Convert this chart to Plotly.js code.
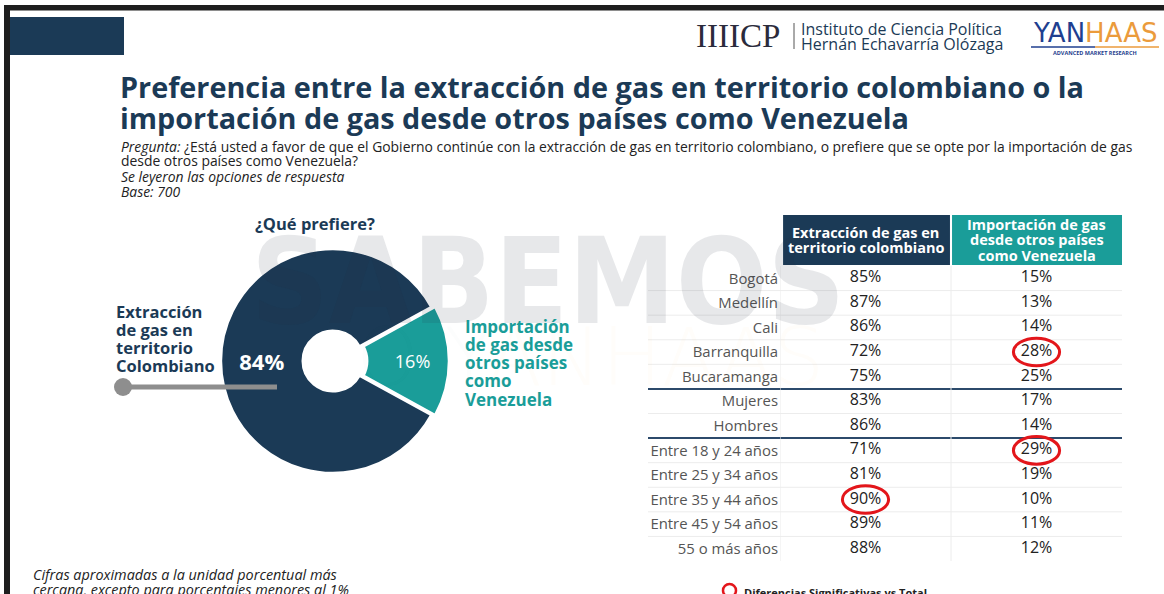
<!DOCTYPE html>
<html>
<head>
<meta charset="utf-8">
<script src="https://cdn.plot.ly/plotly-3.0.1.min.js"></script>
<style>
  html, body { margin: 0; padding: 0; background: #ffffff; }
  #chart { width: 1164px; height: 594px; }
</style>
</head>
<body>
<div id="chart"></div>
<script>
// ---------------- DATA ----------------
const pieLabels = ["Importación de gas desde otros países como Venezuela", "Extracción de gas en territorio Colombiano"];
const pieValues = [16, 84];

const rowLabels = ["Bogotá", "Medellín", "Cali", "Barranquilla", "Bucaramanga",
                   "Mujeres", "Hombres",
                   "Entre 18 y 24 años", "Entre 25 y 34 años", "Entre 35 y 44 años", "Entre 45 y 54 años", "55 o más años"];
const extraccion  = [85, 87, 86, 72, 75, 83, 86, 71, 81, 90, 89, 88];
const importacion = [15, 13, 14, 28, 25, 17, 14, 29, 19, 10, 11, 12];
// significant differences vs total (circled cells)
const sigExtraccion  = [false, false, false, false, false, false, false, false, false, true, false, false];
const sigImportacion = [false, false, false, true, false, false, false, true, false, false, false, false];
// group boundaries (after these row indices a thick line is drawn)
const groupEnds = [4, 6];

const colHeaders = ["Extracción de gas en<br>territorio colombiano", "Importación de gas<br>desde otros países<br>como Venezuela"];

// ---------------- STYLE ----------------
const W = 1164, H = 594;
const NAVY = "#1b3a56", TEAL = "#1a9d99", RED = "#e3161b";
const FONT = "'Open Sans', Lato, sans-serif";
const px = x => x / W;
const py = y => 1 - y / H;

const annotations = [];
function T(text, x, y, o) {
  o = o || {};
  annotations.push({
    text: text, x: px(x), y: py(y), xref: "paper", yref: "paper",
    xanchor: o.xa || "left", yanchor: o.ya || "middle", showarrow: false,
    align: o.align || "left",
    font: { family: o.family || FONT, size: o.size || 14, color: o.color || "#333",
            weight: o.weight || "normal", style: o.style || "normal" }
  });
}
function lines(arr, x, y0, dy, o) { arr.forEach((t, i) => T(t, x, y0 + i * dy, o)); }

const shapes = [];
function rectPx(x0, y0, x1, y1, color, layer) {
  shapes.push({ type: "rect", xref: "paper", yref: "paper", x0: px(x0), x1: px(x1), y0: py(y1), y1: py(y0),
                fillcolor: color, line: { width: 0 }, layer: layer || "below" });
}
function linePx(x0, y0, x1, y1, color, w, layer) {
  shapes.push({ type: "line", xref: "paper", yref: "paper", x0: px(x0), x1: px(x1), y0: py(y0), y1: py(y1),
                line: { color: color, width: w }, layer: layer || "below" });
}

// frame & header block
rectPx(4, 5, 1164, 10.5, "#1e1e1e");
rectPx(4, 5, 10, 594, "#1e1e1e");
rectPx(10, 17, 124, 55, NAVY);

// watermark (drawn first so other texts sit on top of it)
T("SABEMOS", 548, 282, { xa: "center", size: 120, weight: "bold", color: "rgba(40,50,62,0.11)", family: "'DejaVu Sans Condensed', 'Liberation Sans Narrow', 'Liberation Sans', sans-serif" });
T("<span style='color:rgba(40,50,62,0.1)'>O Y</span><span style='color:rgba(235,150,60,0.22)'>ANHAAS</span>", 590, 357, { xa: "center", size: 80, color: "rgba(40,50,62,0.1)", family: "'DejaVu Sans ExtraLight', 'DejaVu Sans', sans-serif", weight: 200 });

// title & question
T("Preferencia entre la extracción de gas en territorio colombiano o la", 118, 87, { size: 28.8, weight: "bold", color: NAVY });
T("importación de gas desde otros países como Venezuela", 118, 118, { size: 28.8, weight: "bold", color: NAVY });
T("<i>Pregunta:</i> ¿Está usted a favor de que el Gobierno continúe con la extracción de gas en territorio colombiano, o prefiere que se opte por la importación de gas", 119, 146, { size: 13.9, color: "#222" });
T("desde otros países como Venezuela?", 119, 161, { size: 13.9, color: "#222" });
T("Se leyeron las opciones de respuesta", 119, 176, { size: 13.9, color: "#222", style: "italic" });
T("Base: 700", 119, 191, { size: 13.9, color: "#222", style: "italic" });

// logos (text)
T("IIIICP", 694, 36, { size: 33, color: "#2b2b3b", family: "'Liberation Serif', serif" });
linePx(794, 23, 794, 49, "#555", 1);
T("Instituto de Ciencia Política", 799, 29, { size: 16, color: NAVY });
T("Hernán Echavarría Olózaga", 799, 44, { size: 16, color: NAVY });
T("<span style='color:#1f3f8f'>YAN</span><span style='color:#eb9b3c'>HAAS</span>", 1095, 33, { xa: "center", size: 26, color: "#1f3f8f", family: "'DejaVu Sans', sans-serif" });
linePx(1031, 47, 1095, 47, "#1f3f8f", 1.5);
linePx(1095, 47, 1159, 47, "#eb9b3c", 1.5);
T("ADVANCED MARKET RESEARCH", 1095, 53, { xa: "center", size: 5.5, color: "#1f3f8f", weight: "bold" });

// donut labels
T("¿Qué prefiere?", 315, 223, { xa: "center", size: 16.5, weight: "bold", color: NAVY });
lines(["Extracción", "de gas en", "territorio", "Colombiano"], 114, 311, 18.2, { size: 16.5, weight: "bold", color: NAVY });
lines(["Importación", "de gas desde", "otros países", "como", "Venezuela"], 463, 326, 18.3, { size: 17, weight: "bold", color: TEAL });
// connector
linePx(123, 387, 277, 387, "#8e8e8e", 5, "above");
shapes.push({ type: "circle", xref: "paper", yref: "paper", x0: px(114), x1: px(132), y0: py(396), y1: py(378),
              fillcolor: "#8e8e8e", line: { width: 0 }, layer: "above" });

// table header
const X2L = 780, X2R = 1122;
function xc(v) { return X2L + (v / 2) * (X2R - X2L); }
shapes.push({ type: "rect", xref: "x", yref: "paper", x0: 0.018, x1: 0.994, y0: py(265), y1: py(215), fillcolor: NAVY, line: { width: 0 }, layer: "below" });
shapes.push({ type: "rect", xref: "x", yref: "paper", x0: 1.006, x1: 2.0, y0: py(265), y1: py(215), fillcolor: TEAL, line: { width: 0 }, layer: "below" });
colHeaders.forEach((h, i) => {
  const parts = h.split("<br>");
  const n = parts.length;
  parts.forEach((p, k) => T(p, xc(i + 0.5), 240 + (k - (n - 1) / 2) * 15.8, { xa: "center", size: 14.5, weight: "bold", color: "#ffffff" }));
});

// row separators
for (let i = 0; i < rowLabels.length - 1; i++) {
  if (groupEnds.includes(i)) continue;
  shapes.push({ type: "line", xref: "paper", yref: "y", x0: px(648), x1: px(1122), y0: i + 0.5, y1: i + 0.5,
                line: { color: "#ececec", width: 1 }, layer: "below" });
}
groupEnds.forEach(i => shapes.push({ type: "line", xref: "paper", yref: "y", x0: px(648), x1: px(1122), y0: i + 0.5, y1: i + 0.5,
                line: { color: "#2c4a6b", width: 2 }, layer: "below" }));
// vertical separators
shapes.push({ type: "line", xref: "x", yref: "paper", x0: 0, x1: 0, y0: py(561), y1: py(266), line: { color: "#ececec", width: 1 }, layer: "below" });
shapes.push({ type: "line", xref: "x", yref: "paper", x0: 1, x1: 1, y0: py(561), y1: py(266), line: { color: "#ececec", width: 1 }, layer: "below" });

// significance ellipses built from the flags
[sigExtraccion, sigImportacion].forEach((flags, col) => {
  flags.forEach((f, r) => {
    if (!f) return;
    shapes.push({ type: "circle", xref: "x", yref: "y", x0: col + 0.5 - 0.135, x1: col + 0.5 + 0.135, y0: r - 0.56, y1: r + 0.56,
                  line: { color: RED, width: 3 }, layer: "above" });
  });
});

// legend & footnote
shapes.push({ type: "circle", xref: "paper", yref: "paper", x0: px(723), x1: px(736), y0: py(597), y1: py(584),
              line: { color: RED, width: 2.5 }, layer: "above" });
T("Diferencias Significativas vs Total", 742, 592, { size: 11, weight: "bold", color: "#222" });
T("Cifras aproximadas a la unidad porcentual más", 31, 574, { size: 14.4, style: "italic", color: "#222" });
T("cercana, excepto para porcentajes menores al 1%", 31, 589, { size: 14.4, style: "italic", color: "#222" });

// ---------------- TRACES ----------------
const pieTrace = {
  type: "pie", labels: pieLabels, values: pieValues, sort: false, direction: "clockwise",
  hole: 0.27, pull: [0.035, 0],
  marker: { colors: [TEAL, NAVY], line: { color: "#ffffff", width: 2.5 } },
  textinfo: "percent", texttemplate: "%{value}%", textposition: "inside", insidetextorientation: "horizontal",
  textfont: { family: FONT, color: "#ffffff", size: [18, 22], weight: ["normal", "bold"] },
  domain: { x: [px(217), px(449)], y: [py(477), py(245)] },
  showlegend: false, hoverinfo: "label+percent"
};
// rotation: first (teal) slice centred on 3 o'clock
pieTrace.rotation = 90 - (pieValues[0] / (pieValues[0] + pieValues[1])) * 360 / 2;

const colText = (vals) => vals.map(v => v + "%");
const extTrace = { type: "scatter", mode: "text", x: rowLabels.map(() => 0.5), y: rowLabels, text: colText(extraccion),
                   textfont: { family: FONT, size: 16, color: "#222" }, xaxis: "x", yaxis: "y", showlegend: false, hoverinfo: "skip" };
const impTrace = { type: "scatter", mode: "text", x: rowLabels.map(() => 1.5), y: rowLabels, text: colText(importacion),
                   textfont: { family: FONT, size: 16, color: "#222" }, xaxis: "x", yaxis: "y", showlegend: false, hoverinfo: "skip" };

const layout = {
  width: W, height: H, margin: { l: 0, r: 0, t: 0, b: 0 },
  paper_bgcolor: "#ffffff", plot_bgcolor: "rgba(0,0,0,0)",
  font: { family: FONT },
  xaxis: { domain: [px(X2L), px(X2R)], range: [0, 2], showgrid: false, zeroline: false, showticklabels: false, showline: false, fixedrange: true },
  yaxis: { domain: [py(561), py(266)], type: "category", categoryorder: "array", categoryarray: rowLabels,
           range: [rowLabels.length - 0.5, -0.5], showgrid: false, zeroline: false, showline: false, ticks: "",
           tickfont: { family: FONT, size: 14.9, color: "#555" }, ticklabelstandoff: 1, fixedrange: true },
  shapes: shapes, annotations: annotations
};

Plotly.newPlot("chart", [pieTrace, extTrace, impTrace], layout, { displayModeBar: false, staticPlot: true });
</script>
</body>
</html>
